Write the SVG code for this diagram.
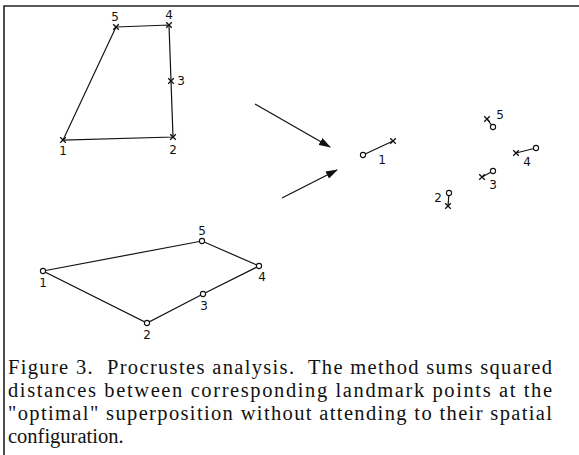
<svg xmlns="http://www.w3.org/2000/svg" width="579" height="455" viewBox="0 0 579 455">
<style>
.ln{stroke:#111;stroke-width:1.2;fill:none}
.pt{stroke:#111;stroke-width:1.1;fill:#fff}
.lb{font-family:"DejaVu Sans","Liberation Sans",sans-serif;font-size:12px;fill:#111;text-anchor:middle}
.cap{font-family:"Liberation Serif","Times New Roman",serif;font-size:20.5px;fill:#111;white-space:pre}
.frame{stroke:#222;stroke-width:1.6;fill:none}
</style>
<defs>
<path id="x" d="M-2.8,-2.8L2.8,2.8M-2.8,2.8L2.8,-2.8" stroke="#111" stroke-width="1.3"/>
<circle id="o" r="2.6" class="pt"/>
<marker id="ah" viewBox="0 0 12 8" refX="11" refY="4" markerWidth="12" markerHeight="8" markerUnits="userSpaceOnUse" orient="auto"><path d="M0,0L12,4L0,8z" fill="#111"/></marker>
</defs>
<g id="frame"><path class="frame" d="M4,455V6H579"/></g>
<g id="connectors">
<path class="ln" d="M116,27L169,25L171,81L173,137L63,140Z"/>
<path class="ln" d="M43,271L202,241L259,266L203,294L147,323Z"/>
<line class="ln" x1="255" y1="104" x2="330" y2="147" marker-end="url(#ah)" stroke-width="1.5"/>
<line class="ln" x1="282" y1="198" x2="337" y2="170" marker-end="url(#ah)" stroke-width="1.5"/>
<line class="ln" x1="363" y1="155" x2="393" y2="141"/>
<line class="ln" x1="487" y1="119" x2="493" y2="127"/>
<line class="ln" x1="516" y1="153" x2="536" y2="148"/>
<line class="ln" x1="482" y1="177" x2="493" y2="171"/>
<line class="ln" x1="449" y1="193" x2="448" y2="206"/>
</g>
<g id="shapeA">
<g id="a1"><use href="#x" x="63" y="140"/><text class="lb" x="63" y="155">1</text></g>
<g id="a2"><use href="#x" x="173" y="137"/><text class="lb" x="173" y="154">2</text></g>
<g id="a3"><use href="#x" x="171" y="81"/><text class="lb" x="181" y="85">3</text></g>
<g id="a4"><use href="#x" x="169" y="25"/><text class="lb" x="169" y="19">4</text></g>
<g id="a5"><use href="#x" x="116" y="27"/><text class="lb" x="115" y="21">5</text></g>
</g>
<g id="shapeB">
<g id="b1"><use href="#o" x="43" y="271"/><text class="lb" x="43" y="287">1</text></g>
<g id="b2"><use href="#o" x="147" y="323"/><text class="lb" x="147" y="339">2</text></g>
<g id="b3"><use href="#o" x="203" y="294"/><text class="lb" x="204" y="310">3</text></g>
<g id="b4"><use href="#o" x="259" y="266"/><text class="lb" x="262" y="281">4</text></g>
<g id="b5"><use href="#o" x="202" y="241"/><text class="lb" x="202" y="235">5</text></g>
</g>
<g id="superposition">
<g id="s1"><use href="#o" x="363" y="155"/><use href="#x" x="393" y="141"/><text class="lb" x="382" y="164">1</text></g>
<g id="s2"><use href="#o" x="449" y="193"/><use href="#x" x="448" y="206"/><text class="lb" x="438" y="202">2</text></g>
<g id="s3"><use href="#o" x="493" y="171"/><use href="#x" x="482" y="177"/><text class="lb" x="493" y="189">3</text></g>
<g id="s4"><use href="#o" x="536" y="148"/><use href="#x" x="516" y="153"/><text class="lb" x="527" y="166">4</text></g>
<g id="s5"><use href="#o" x="493" y="127"/><use href="#x" x="487" y="119"/><text class="lb" x="500" y="119">5</text></g>
</g>
<g id="caption">
<text class="cap" x="8" y="374" textLength="544" lengthAdjust="spacing">Figure 3.  Procrustes analysis.  The method sums squared</text>
<text class="cap" x="8" y="397" textLength="544" lengthAdjust="spacing">distances between corresponding landmark points at the</text>
<text class="cap" x="8" y="420" textLength="544" lengthAdjust="spacing">"optimal" superposition without attending to their spatial</text>
<text class="cap" x="8" y="443">configuration.</text>
</g>
</svg>
